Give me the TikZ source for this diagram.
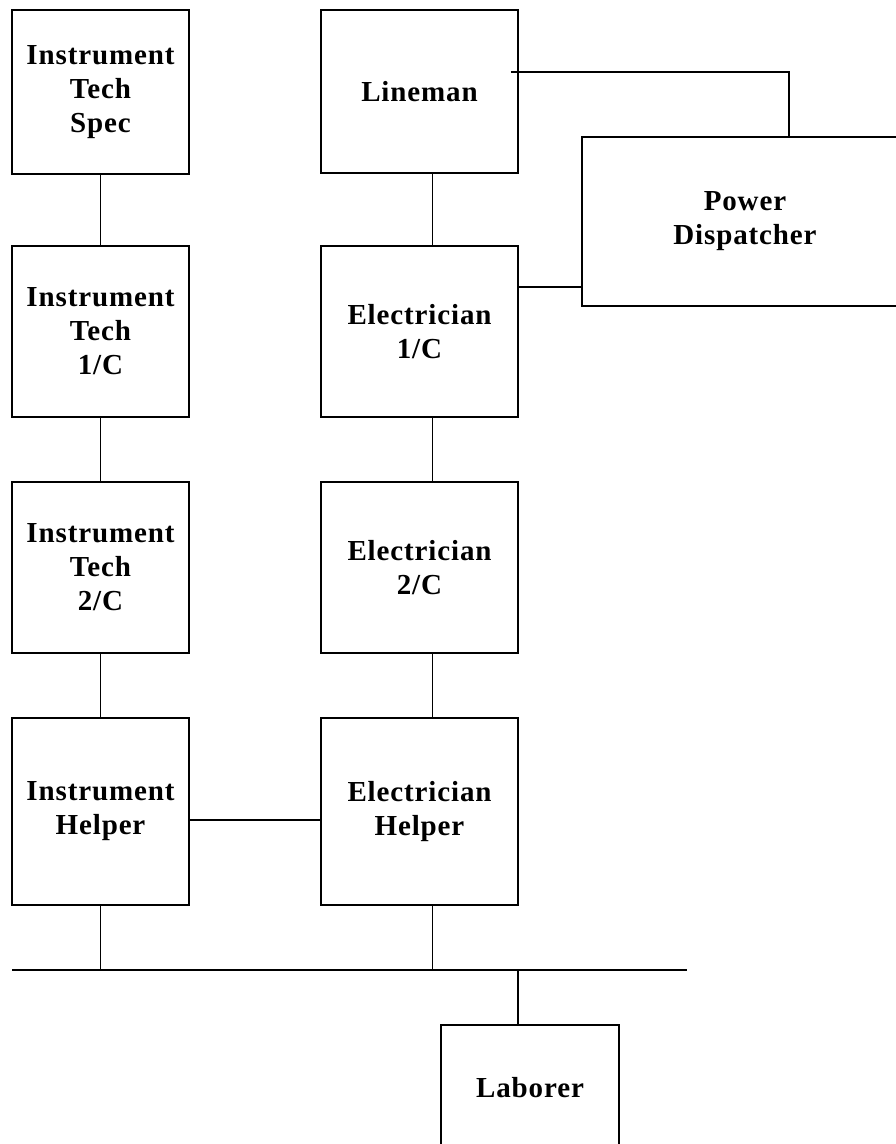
\documentclass[tikz,border=0pt]{standalone}
\usepackage{fontspec}
\setmainfont{Liberation Serif}[LetterSpace=3]
\begin{document}
\begin{tikzpicture}[x=1pt,y=-1pt,line width=1.6pt,
  box/.style={draw,align=center,inner sep=0pt,
    font=\fontsize{29}{34}\selectfont\bfseries},
  lcol/.style={box,minimum width=177pt},
  rcol/.style={box,minimum width=197pt}]
 \useasboundingbox (0,0) rectangle (896,1144);

 \node[lcol,minimum height=164pt] (spec) at (100.5,92) {Instrument\\Tech\\Spec};
 \node[lcol,minimum height=171pt] (it1) at (100.5,331.5) {Instrument\\Tech\\1/C};
 \node[lcol,minimum height=171pt] (it2) at (100.5,567.5) {Instrument\\Tech\\2/C};
 \node[lcol,minimum height=187pt] (ih) at (100.5,811.5) {Instrument\\Helper};
 \node[rcol,minimum height=163pt] (lineman) at (419.5,91.5) {Lineman};
 \node[rcol,minimum height=171pt] (el1) at (419.5,331.5) {Electrician\\1/C};
 \node[rcol,minimum height=171pt] (el2) at (419.5,567.5) {Electrician\\2/C};
 \node[rcol,minimum height=187pt] (eh) at (419.5,811.5) {Electrician\\Helper};
 \node[box,minimum width=326pt,minimum height=169pt] (disp) at (745,221.5) {Power\\Dispatcher};
 \node[box,minimum width=178pt,minimum height=125pt] (lab) at (530,1087.5) {Laborer};
 \coordinate (busl) at (12,970);
 \coordinate (busr) at (687,970);

 \draw (spec) -- (it1) -- (it2) -- (ih);
 \draw ([xshift=13]lineman.south) -- ([xshift=13]el1.north)
 ([xshift=13]el1.south) -- ([xshift=13]el2.north)
 ([xshift=13]el2.south) -- ([xshift=13]eh.north)
 ([xshift=13]eh.south) -- ([xshift=13]eh.south |- busl);
 \draw (ih.south) -- (ih.south |- busl);
 \draw (busl) -- (busr);
 \draw ([xshift=-12]lab.north) -- ([xshift=-12]lab.north |- busl);
 \draw ([yshift=-8.5]ih.east) -- ([yshift=-8.5]eh.west);
 \draw ([yshift=44.5]el1.east) -- ([yshift=44.5]el1.east -| disp.west);
 \draw[shorten <=-8pt] ([yshift=19.5]lineman.east) -| ([xshift=44]disp.north);

\end{tikzpicture}
\end{document}
